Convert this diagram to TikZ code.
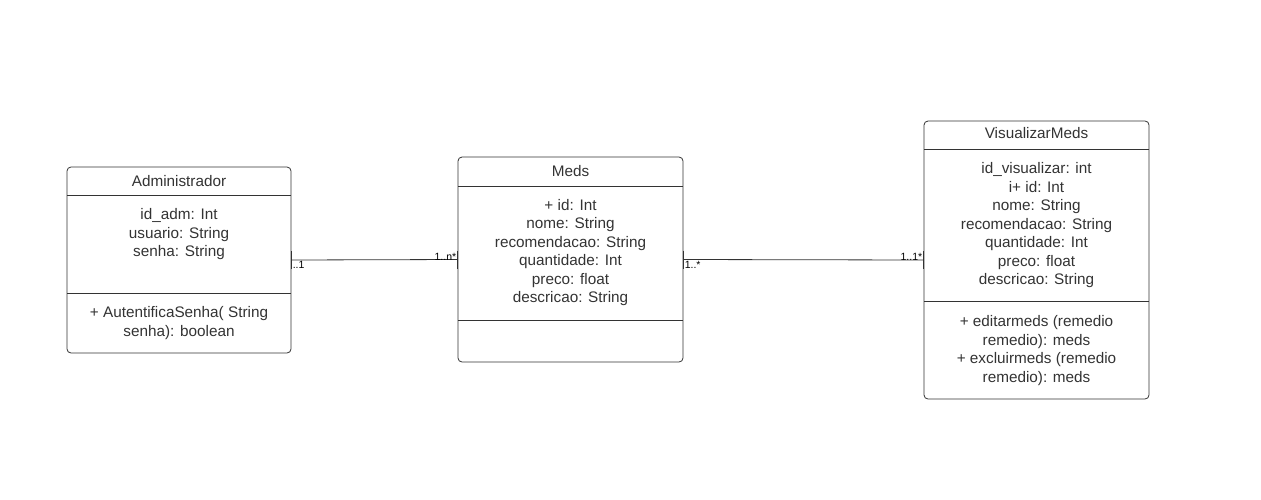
\documentclass[tikz,border=0pt]{standalone}
\usepackage{fontspec}
\setmainfont{Liberation Sans}
\definecolor{umlcinza}{HTML}{333333}

\tikzset{
  classe/.style={draw=umlcinza, rounded corners=4pt, line width=0.8pt, inner sep=0pt},
  texto/.style={font=\fontsize{15.3}{18.5}\selectfont, text=umlcinza, align=center, inner sep=0pt},
  mult/.style={font=\fontsize{10.5}{12}\selectfont, text=black, inner sep=1pt}
}

\begin{document}
\begin{tikzpicture}[x=1pt,y=-1pt,umlcinza,line width=0.8pt]
\useasboundingbox (0,0) rectangle (1261,499);
% classes
\node[classe, minimum width=224pt, minimum height=186pt] (adm) at (179,260) {};
\node[classe, minimum width=225pt, minimum height=205pt] (meds) at (570.5,259.5) {};
\node[classe, minimum width=225pt, minimum height=278pt] (vis) at (1036.5,260) {};
% separadores
\draw (67,195) -- (291,195);
\draw (67,293) -- (291,293);
\draw (458,186) -- (683,186);
\draw (458,320) -- (683,320);
\draw (924,149) -- (1149,149);
\draw (924,301) -- (1149,301);
% textos
\node[texto] (admnome) at (179,181) {Administrador};
\node[texto] (admatr) at (179,234.5) {id\_adm: Int\\usuario: String\\senha: String};
\node[texto] (admmet) at (179,323) {+ AutentificaSenha( String\\senha): boolean};
\node[texto] (medsnome) at (570.5,171) {Meds};
\node[texto] (medsatr) at (570.5,252.5) {+ id: Int\\nome: String\\recomendacao: String\\quantidade: Int\\preco: float\\descricao: String};
\node[texto] (visnome) at (1036.5,133.5) {VisualizarMeds};
\node[texto] (visatr) at (1036.5,225.5) {id\_visualizar: int\\i+ id: Int\\nome: String\\recomendacao: String\\quantidade: Int\\preco: float\\descricao: String};
\node[texto] (vismet) at (1036.5,350.5) {+ editarmeds (remedio\\remedio): meds\\+ excluirmeds (remedio\\remedio): meds};
% associacoes
\draw (adm.east) -- (meds.west);
\draw (adm.east) ++(0,-9) -- ++(0,18);
\draw (meds.west) ++(0,-9) -- ++(0,18);
\draw (meds.east) -- (vis.west);
\draw (meds.east) ++(0,-9) -- ++(0,18);
\draw (vis.west) ++(0,-9) -- ++(0,18);
\node[mult, anchor=north west] (m1) at (adm.east) {..1};
\node[mult, anchor=south east] (m2) at ([yshift=-2pt]meds.west) {1..n*};
\node[mult, anchor=north west] (m3) at (meds.east) {1..*};
\node[mult, anchor=south east] (m4) at ([yshift=-2pt]vis.west) {1..1*};
\end{tikzpicture}
\end{document}
